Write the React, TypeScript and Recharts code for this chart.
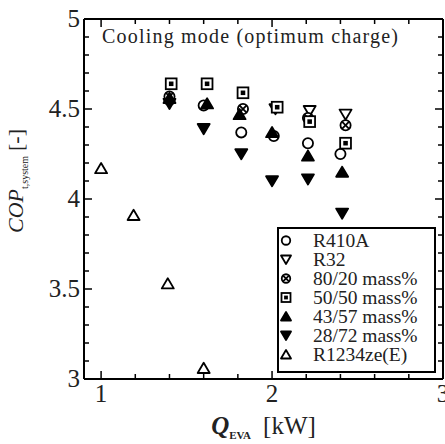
import { ScatterChart, Scatter, XAxis, YAxis, Legend, Label } from "recharts";

const FONT = "Liberation Serif, Tinos, DejaVu Serif, serif";
const INK = "#222";

// axis ticks (minor + major) and which of them carry a label
const xTicks = [1, 1.2, 1.4, 1.6, 1.8, 2, 2.2, 2.4, 2.6, 2.8, 3];
const xMajor = [1, 2, 3];
const yTicks = [3, 3.1, 3.2, 3.3, 3.4, 3.5, 3.6, 3.7, 3.8, 3.9, 4, 4.1, 4.2, 4.3, 4.4, 4.5, 4.6, 4.7, 4.8, 4.9, 5];
const yMajor = [3, 3.5, 4, 4.5, 5];

// Q_EVA [kW] vs COP_t,system [-]
const r410a = [
  { q: 1.4, cop: 4.55 },
  { q: 1.6, cop: 4.52 },
  { q: 1.82, cop: 4.37 },
  { q: 2.01, cop: 4.35 },
  { q: 2.21, cop: 4.31 },
  { q: 2.4, cop: 4.25 },
];
const r32 = [
  { q: 2.02, cop: 4.5 },
  { q: 2.22, cop: 4.49 },
  { q: 2.43, cop: 4.47 },
];
const mix8020 = [
  { q: 1.4, cop: 4.57 },
  { q: 1.83, cop: 4.5 },
  { q: 2.21, cop: 4.45 },
  { q: 2.43, cop: 4.41 },
];
const mix5050 = [
  { q: 1.41, cop: 4.64 },
  { q: 1.62, cop: 4.64 },
  { q: 1.83, cop: 4.59 },
  { q: 2.03, cop: 4.51 },
  { q: 2.22, cop: 4.43 },
  { q: 2.43, cop: 4.31 },
];
const mix4357 = [
  { q: 1.4, cop: 4.56 },
  { q: 1.62, cop: 4.53 },
  { q: 1.81, cop: 4.47 },
  { q: 2.0, cop: 4.37 },
  { q: 2.21, cop: 4.24 },
  { q: 2.41, cop: 4.15 },
];
const mix2872 = [
  { q: 1.4, cop: 4.53 },
  { q: 1.6, cop: 4.39 },
  { q: 1.82, cop: 4.25 },
  { q: 2.0, cop: 4.1 },
  { q: 2.21, cop: 4.11 },
  { q: 2.41, cop: 3.92 },
];
const r1234ze = [
  { q: 1.0, cop: 4.17 },
  { q: 1.19, cop: 3.91 },
  { q: 1.39, cop: 3.53 },
  { q: 1.6, cop: 3.06 },
];

const series = [
  { name: "R410A", kind: "circle", data: r410a },
  { name: "R32", kind: "downOpen", data: r32 },
  { name: "80/20 mass%", kind: "circleX", data: mix8020 },
  { name: "50/50 mass%", kind: "squareDot", data: mix5050 },
  { name: "43/57 mass%", kind: "upFill", data: mix4357 },
  { name: "28/72 mass%", kind: "downFill", data: mix2872 },
  { name: "R1234ze(E)", kind: "upOpen", data: r1234ze },
];

function Marker({ kind, cx, cy, s = 12 }: { kind: string; cx: number; cy: number; s?: number }) {
  const h = s / 2;
  const sw = 1.8;
  switch (kind) {
    case "circle":
      return <circle cx={cx} cy={cy} r={h * 0.85} fill="#fff" stroke="#000" strokeWidth={sw} />;
    case "circleX": {
      const r = h * 0.85;
      const d = r * 0.7;
      return (
        <g stroke="#000" strokeWidth={sw}>
          <circle cx={cx} cy={cy} r={r} fill="#fff" />
          <line x1={cx - d} y1={cy - d} x2={cx + d} y2={cy + d} />
          <line x1={cx - d} y1={cy + d} x2={cx + d} y2={cy - d} />
        </g>
      );
    }
    case "squareDot":
      return (
        <g>
          <rect x={cx - h * 0.9} y={cy - h * 0.9} width={h * 1.8} height={h * 1.8} fill="#fff" stroke="#000" strokeWidth={sw} />
          <rect x={cx - h * 0.38} y={cy - h * 0.38} width={h * 0.76} height={h * 0.76} fill="#000" />
        </g>
      );
    case "upFill":
    case "upOpen":
      return (
        <polygon
          points={`${cx - h},${cy + h * 0.8} ${cx + h},${cy + h * 0.8} ${cx},${cy - h * 0.9}`}
          fill={kind === "upFill" ? "#000" : "#fff"}
          stroke="#000"
          strokeWidth={sw}
          strokeLinejoin="round"
        />
      );
    case "downFill":
    case "downOpen":
      return (
        <polygon
          points={`${cx - h},${cy - h * 0.8} ${cx + h},${cy - h * 0.8} ${cx},${cy + h * 0.9}`}
          fill={kind === "downFill" ? "#000" : "#fff"}
          stroke="#000"
          strokeWidth={sw}
          strokeLinejoin="round"
        />
      );
    default:
      return null;
  }
}

const BottomTick = (props: any) => {
  const { x, y, payload } = props;
  const major = xMajor.includes(payload.value);
  return (
    <g>
      <line x1={x} x2={x} y1={y} y2={y - (major ? 8 : 5)} stroke="#000" strokeWidth={1.5} />
      {major && (
        <text x={x} y={y + 23} textAnchor="middle" fontSize={25} fontFamily={FONT} fill={INK}>
          {payload.value}
        </text>
      )}
    </g>
  );
};

const TopTick = (props: any) => {
  const { x, y, payload } = props;
  const major = xMajor.includes(payload.value);
  return <line x1={x} x2={x} y1={y} y2={y + (major ? 8 : 5)} stroke="#000" strokeWidth={1.5} />;
};

const LeftTick = (props: any) => {
  const { x, y, payload } = props;
  const major = yMajor.includes(payload.value);
  return (
    <g>
      <line x1={x} x2={x + (major ? 8 : 5)} y1={y} y2={y} stroke="#000" strokeWidth={1.5} />
      {major && (
        <text x={x - 4} y={y + 8} textAnchor="end" fontSize={25} fontFamily={FONT} fill={INK}>
          {payload.value}
        </text>
      )}
    </g>
  );
};

const RightTick = (props: any) => {
  const { x, y, payload } = props;
  const major = yMajor.includes(payload.value);
  return <line x1={x} x2={x - (major ? 8 : 5)} y1={y} y2={y} stroke="#000" strokeWidth={1.5} />;
};

const XTitle = (props: any) => {
  const { viewBox } = props;
  const cx = viewBox.x + viewBox.width / 2;
  return (
    <text x={cx} y={434} textAnchor="middle" fontFamily={FONT} fontSize={25} fill={INK}>
      <tspan fontStyle="italic" fontWeight="bold">Q</tspan>
      <tspan fontSize={11} dy={5} fontWeight="bold">EVA</tspan>
      <tspan dy={-5} dx={12}>[kW]</tspan>
    </text>
  );
};

const YTitle = () => (
  <text x={23} y={181} transform="rotate(-90 23 181)" textAnchor="middle" fontFamily={FONT} fontSize={22} fill={INK}>
    <tspan fontStyle="italic">COP</tspan>
    <tspan fontSize={10} dy={5}>t,system</tspan>
    <tspan dy={-5} dx={5}>[-]</tspan>
  </text>
);

const ChartTitle = () => (
  <text x={102} y={43} fontFamily={FONT} fontSize={20} fill={INK} textLength={296} lengthAdjust="spacing">
    Cooling mode (optimum charge)
  </text>
);

const LegendBox = () => (
  <div
    style={{
      border: "2px solid #000",
      background: "#fff",
      width: 159,
      height: 146,
      boxSizing: "border-box",
      paddingTop: 2,
      fontFamily: FONT,
      fontSize: 19.5,
      color: INK,
    }}
  >
    {series.map((s) => (
      <div key={s.name} style={{ display: "flex", alignItems: "center", height: 19, lineHeight: "19px" }}>
        <svg width={14} height={19} style={{ marginLeft: 0, marginRight: 20, overflow: "visible" }}>
          <Marker kind={s.kind} cx={7} cy={9.5} s={10} />
        </svg>
        <span style={{ whiteSpace: "nowrap" }}>{s.name}</span>
      </div>
    ))}
  </div>
);

export default function App() {
  return (
    <div style={{ position: "absolute", left: 0, top: 0, width: 445, height: 444, background: "#fff" }}>
      <ScatterChart width={445} height={444} margin={{ top: 0, right: 0, bottom: 0, left: 0 }}>
        <XAxis
          dataKey="q"
          type="number"
          domain={[0.9, 3]}
          ticks={xTicks}
          interval={0}
          height={65}
          allowDataOverflow
          axisLine={{ stroke: "#000", strokeWidth: 2 }}
          tickLine={false}
          tickSize={0}
          tickMargin={0}
          tick={BottomTick}
        >
          <Label content={XTitle} />
        </XAxis>
        <YAxis
          dataKey="cop"
          type="number"
          domain={[3, 5]}
          ticks={yTicks}
          interval={0}
          width={84}
          allowDataOverflow
          axisLine={{ stroke: "#000", strokeWidth: 2 }}
          tickLine={false}
          tickSize={0}
          tickMargin={0}
          tick={LeftTick}
        >
          <Label content={YTitle} />
        </YAxis>
        <XAxis
          xAxisId="top"
          orientation="top"
          dataKey="q"
          type="number"
          domain={[0.9, 3]}
          ticks={xTicks}
          interval={0}
          height={19}
          allowDataOverflow
          axisLine={{ stroke: "#000", strokeWidth: 2 }}
          tickLine={false}
          tickSize={0}
          tickMargin={0}
          tick={TopTick}
        >
          <Label content={ChartTitle} />
        </XAxis>
        <YAxis
          yAxisId="right"
          orientation="right"
          dataKey="cop"
          type="number"
          domain={[3, 5]}
          ticks={yTicks}
          interval={0}
          width={2}
          allowDataOverflow
          axisLine={{ stroke: "#000", strokeWidth: 2 }}
          tickLine={false}
          tickSize={0}
          tickMargin={0}
          tick={RightTick}
        />
        <Scatter
          xAxisId="top"
          yAxisId="right"
          data={r1234ze}
          legendType="none"
          isAnimationActive={false}
          shape={() => <g />}
        />
        {series.map((s) => (
          <Scatter
            key={s.name}
            name={s.name}
            data={s.data}
            isAnimationActive={false}
            shape={(p: any) => <Marker kind={s.kind} cx={p.cx} cy={p.cy} />}
          />
        ))}
        <Legend
          layout="vertical"
          align="center"
          verticalAlign="middle"
          content={LegendBox}
          wrapperStyle={{ position: "absolute", left: 277, top: 227, width: 159, height: 146 }}
        />
      </ScatterChart>
    </div>
  );
}
